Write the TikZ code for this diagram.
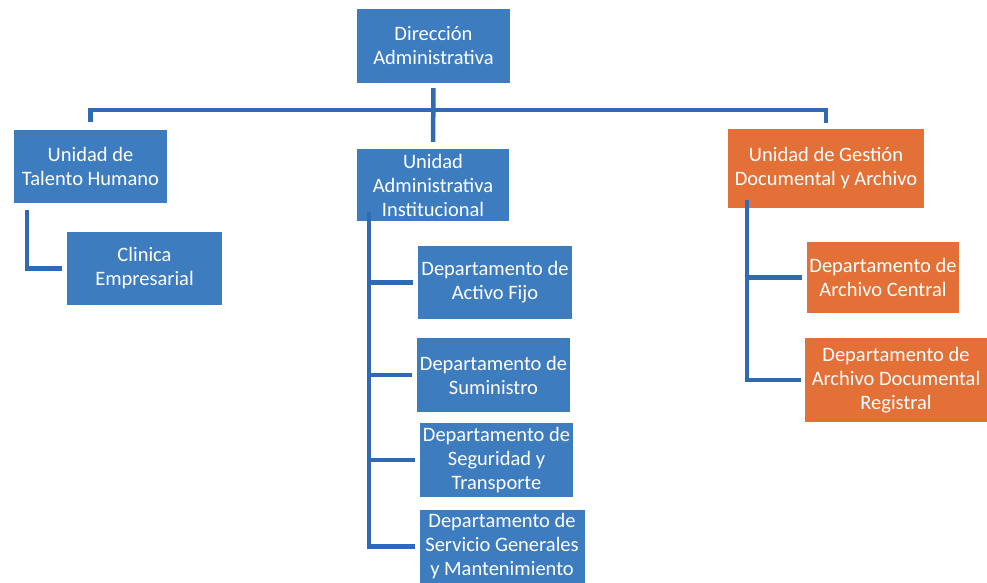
\documentclass[tikz,border=0pt]{standalone}
\usepackage{fontspec}
\setmainfont{Carlito}
\definecolor{boxblue}{HTML}{3E7CC0}
\definecolor{boxorange}{HTML}{E27037}
\definecolor{linec}{HTML}{2F6AB4}
\begin{document}
\begin{tikzpicture}[x=1pt,y=-1pt,
  box/.style={fill=boxblue, text=white, align=center, inner sep=0pt,
    font=\fontsize{20.5}{24}\selectfont},
  obox/.style={box, fill=boxorange},
  conn/.style={draw=linec, line width=4.5pt}]
\useasboundingbox[fill=white] (0,0) rectangle (987,583);
\node[box, minimum width=153pt, minimum height=74pt] (dir) at (433.5,46) {Dirección\\Administrativa};
\node[box, minimum width=153pt, minimum height=73pt] (uth) at (90.5,166.5) {Unidad de\\Talento Humano};
\node[box, minimum width=152pt, minimum height=72pt] (uai) at (433,185) {Unidad\\Administrativa\\Institucional};
\node[obox, minimum width=196pt, minimum height=78pt] (ugd) at (826,168.5) {Unidad de Gestión\\Documental y Archivo};
\node[box, minimum width=155pt, minimum height=73pt] (cli) at (144.5,268.5) {Clinica\\Empresarial};
\node[box, minimum width=154pt, minimum height=73pt] (daf) at (495,282.5) {Departamento de\\Activo Fijo};
\node[box, minimum width=153pt, minimum height=74pt] (dsu) at (493.5,375) {Departamento de\\Suministro};
\node[box, minimum width=153pt, minimum height=74pt] (dse) at (496.5,460) {Departamento de\\Seguridad y\\Transporte};
\node[box, minimum width=165pt, minimum height=73pt] (dsg) at (502,546.5) {Departamento de\\Servicio Generales\\y Mantenimiento};
\node[obox, minimum width=152pt, minimum height=71pt] (dac) at (883,277.5) {Departamento de\\Archivo Central};
\node[obox, minimum width=182pt, minimum height=84pt] (dad) at (896,380) {Departamento de\\Archivo Documental\\Registral};
\coordinate (bar) at (433.5,110);
% top connectors
\draw[conn, shorten <=5pt, shorten >=7pt] (dir.south) -- (uai.north);
\draw[conn, shorten <=8pt, shorten >=6pt] (uth.north) |- (bar) -| (ugd.north);
% left branch
\draw[conn, shorten <=7pt, shorten >=5pt] ([xshift=13pt]uth.south west) |- (cli.west);
% middle branch
\coordinate (mtop) at ([xshift=12pt,yshift=9pt]uai.south west);
\draw[conn] (mtop) |- ([xshift=-4pt]dsg.west);
\draw[conn, shorten >=5pt] (mtop |- daf.west) -- (daf.west);
\draw[conn, shorten >=5pt] (mtop |- dsu.west) -- (dsu.west);
\draw[conn, shorten >=5pt] (mtop |- dse.west) -- (dse.west);
% right branch
\coordinate (rtop) at ([xshift=19pt,yshift=8pt]ugd.south west);
\draw[conn] (rtop) |- ([xshift=-4pt]dad.west);
\draw[conn, shorten >=5pt] (rtop |- dac.west) -- (dac.west);
\end{tikzpicture}
\end{document}
